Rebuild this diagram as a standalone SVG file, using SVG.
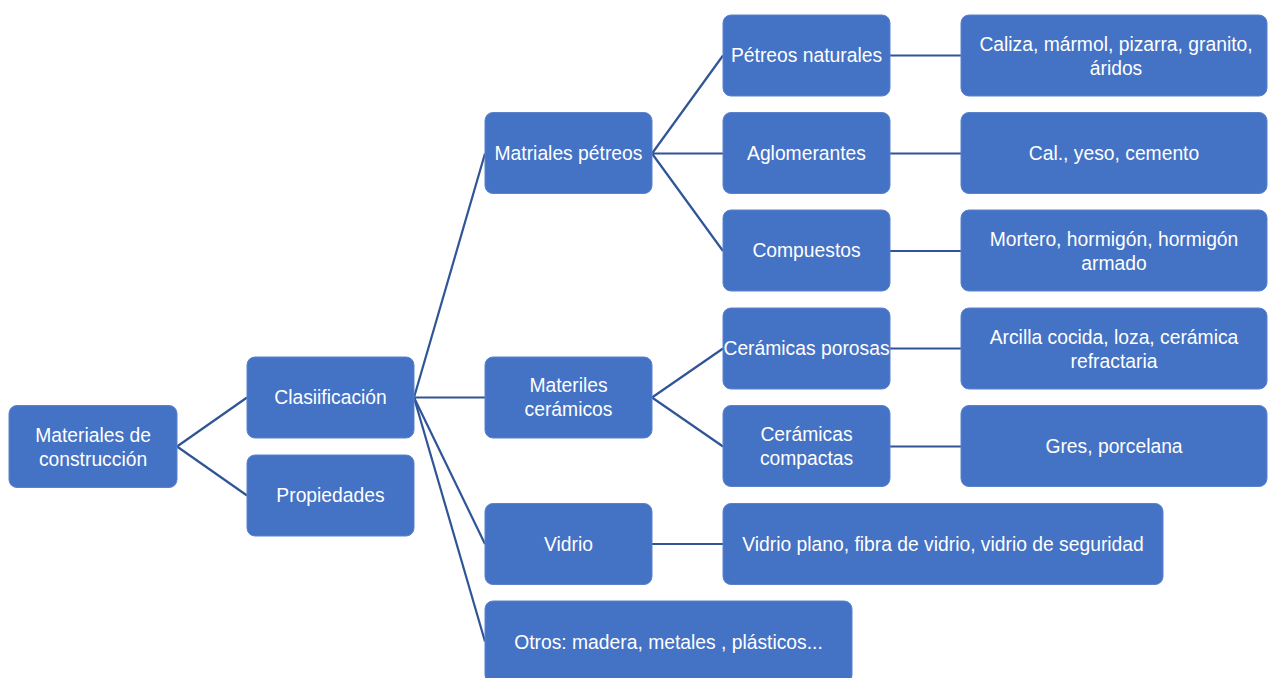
<svg xmlns="http://www.w3.org/2000/svg" width="1269" height="678" viewBox="0 0 1269 678">
<style>
.box{fill:#4472C4;stroke:#5B82CC;stroke-width:1}
.t{font-family:"Liberation Sans",Arial,sans-serif;font-size:19.3px;fill:#FFFFFF;text-anchor:middle;dominant-baseline:central}
.c{stroke:#2F5597;stroke-width:2.2;fill:none}
</style>
<rect width="1269" height="678" fill="#FFFFFF"/>
<g id="connectors">
<line class="c" x1="177" y1="446.5" x2="247" y2="397.5"/>
<line class="c" x1="177" y1="446.5" x2="247" y2="495.5"/>
<line class="c" x1="414" y1="397.5" x2="485" y2="153.5"/>
<line class="c" x1="414" y1="397.5" x2="485" y2="397.5"/>
<line class="c" x1="414" y1="397.5" x2="485" y2="544"/>
<line class="c" x1="414" y1="397.5" x2="485" y2="641.5"/>
<line class="c" x1="652" y1="153.5" x2="723" y2="55.5"/>
<line class="c" x1="652" y1="153.5" x2="723" y2="153.5"/>
<line class="c" x1="652" y1="153.5" x2="723" y2="251"/>
<line class="c" x1="652" y1="397.5" x2="723" y2="348.5"/>
<line class="c" x1="652" y1="397.5" x2="723" y2="446.5"/>
<line class="c" x1="652" y1="544" x2="723" y2="544"/>
<line class="c" x1="890" y1="55.5" x2="961" y2="55.5"/>
<line class="c" x1="890" y1="153.5" x2="961" y2="153.5"/>
<line class="c" x1="890" y1="251" x2="961" y2="251"/>
<line class="c" x1="890" y1="348.5" x2="961" y2="348.5"/>
<line class="c" x1="890" y1="446.5" x2="961" y2="446.5"/>
</g>
<g id="n-root"><rect class="box" x="9" y="405.5" width="168" height="82" rx="8"/><text class="t" x="93" y="435">Materiales de</text><text class="t" x="93" y="459">construcción</text></g>
<g id="n-clasificacion"><rect class="box" x="247" y="357" width="167" height="81" rx="8"/><text class="t" x="330.5" y="397">Clasiificación</text></g>
<g id="n-propiedades"><rect class="box" x="247" y="455" width="167" height="81" rx="8"/><text class="t" x="330.5" y="495">Propiedades</text></g>
<g id="n-petreos"><rect class="box" x="485" y="112.5" width="167" height="81" rx="8"/><text class="t" x="568.5" y="153">Matriales pétreos</text></g>
<g id="n-ceramicos"><rect class="box" x="485" y="357" width="167" height="81" rx="8"/><text class="t" x="568.5" y="385">Materiles</text><text class="t" x="568.5" y="409">cerámicos</text></g>
<g id="n-vidrio"><rect class="box" x="485" y="503.5" width="167" height="81" rx="8"/><text class="t" x="568.5" y="544">Vidrio</text></g>
<g id="n-otros"><rect class="box" x="485" y="601" width="367" height="82" rx="8"/><text class="t" x="668.5" y="642">Otros: madera, metales , plásticos...</text></g>
<g id="n-petreosnat"><rect class="box" x="723" y="15" width="167" height="81" rx="8"/><text class="t" x="806.5" y="55">Pétreos naturales</text></g>
<g id="n-aglomerantes"><rect class="box" x="723" y="112.5" width="167" height="81" rx="8"/><text class="t" x="806.5" y="153">Aglomerantes</text></g>
<g id="n-compuestos"><rect class="box" x="723" y="210" width="167" height="81" rx="8"/><text class="t" x="806.5" y="250.5">Compuestos</text></g>
<g id="n-porosas"><rect class="box" x="723" y="308" width="167" height="81" rx="8"/><text class="t" x="806.5" y="348.5">Cerámicas porosas</text></g>
<g id="n-compactas"><rect class="box" x="723" y="405.5" width="167" height="81" rx="8"/><text class="t" x="806.5" y="434.5">Cerámicas</text><text class="t" x="806.5" y="458.5">compactas</text></g>
<g id="n-vidrioplano"><rect class="box" x="723" y="503.5" width="440" height="81" rx="8"/><text class="t" x="943" y="544">Vidrio plano, fibra de vidrio, vidrio de seguridad</text></g>
<g id="n-caliza"><rect class="box" x="961" y="15" width="306" height="81" rx="8"/><text class="t" x="1116" y="44">Caliza, mármol, pizarra, granito,</text><text class="t" x="1116" y="68">áridos</text></g>
<g id="n-cal"><rect class="box" x="961" y="112.5" width="306" height="81" rx="8"/><text class="t" x="1114" y="153">Cal., yeso, cemento</text></g>
<g id="n-mortero"><rect class="box" x="961" y="210" width="306" height="81" rx="8"/><text class="t" x="1114" y="239">Mortero, hormigón, hormigón</text><text class="t" x="1114" y="263">armado</text></g>
<g id="n-arcilla"><rect class="box" x="961" y="308" width="306" height="81" rx="8"/><text class="t" x="1114" y="337">Arcilla cocida, loza, cerámica</text><text class="t" x="1114" y="361">refractaria</text></g>
<g id="n-gres"><rect class="box" x="961" y="405.5" width="306" height="81" rx="8"/><text class="t" x="1114" y="446">Gres, porcelana</text></g>
</svg>
